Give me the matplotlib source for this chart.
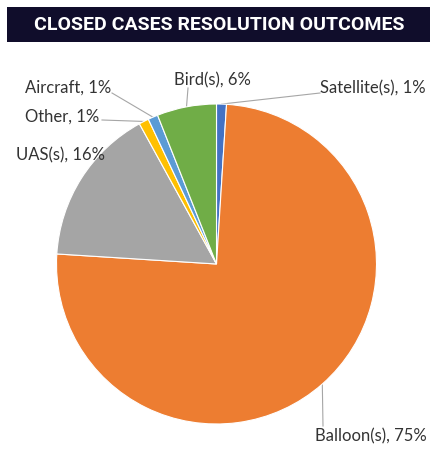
import numpy as np
import matplotlib
matplotlib.use("Agg")
import matplotlib.pyplot as plt
from matplotlib.patches import Rectangle

title = "CLOSED CASES RESOLUTION OUTCOMES"
categories = ["Satellite(s)", "Balloon(s)", "UAS(s)", "Other", "Aircraft", "Bird(s)"]
values = [1, 75, 16, 1, 1, 6]
colors = ["#4472C4", "#ED7D31", "#A5A5A5", "#FFC000", "#5B9BD5", "#70AD47"]

W, H = 443, 452
fig = plt.figure(figsize=(W / 100, H / 100), dpi=100)
ax = fig.add_axes([0, 0, 1, 1])
ax.set_xlim(0, W)
ax.set_ylim(0, H)
ax.set_aspect("equal")
ax.axis("off")

def py(y):
    return H - y

# title bar
ax.add_patch(Rectangle((7, py(43)), 423, 35, facecolor="#100D2B", edgecolor="none"))
ax.text(219, py(25.5), title, color="white", fontsize=14, fontweight="bold",
        family=["Roboto", "DejaVu Sans"], ha="center", va="center")

cx, cy, R = 216.5, py(265), 160
wedges, _ = ax.pie(values, colors=colors, startangle=90, counterclock=False,
                   center=(cx, cy), radius=R,
                   wedgeprops=dict(edgecolor="white", linewidth=0.8))
ax.set_xlim(0, W)
ax.set_ylim(0, H)

label_font = dict(fontsize=12, color="#333333", family=["Lato", "DejaVu Sans"])
# label positions (text anchor) and leader end points, in pixel coords (y down)
layout = {
    "Satellite(s)": dict(text=(320, 88), ha="left", lead=(320, 94)),
    "Balloon(s)": dict(text=(315, 436), ha="left", lead=(323, 427)),
    "UAS(s)": dict(text=(16, 155), ha="left", lead=None),
    "Other": dict(text=(25, 117), ha="left", lead=(102, 121)),
    "Aircraft": dict(text=(25, 88), ha="left", lead=(112, 94)),
    "Bird(s)": dict(text=(174, 80), ha="left", lead=(188, 89)),
}
for w, cat, v in zip(wedges, categories, values):
    L = layout[cat]
    ax.text(L["text"][0], py(L["text"][1]), f"{cat}, {v}%", ha=L["ha"], va="center", **label_font)
    if L["lead"] is not None:
        ang = np.deg2rad((w.theta1 + w.theta2) / 2)
        x0, y0 = cx + R * np.cos(ang), cy + R * np.sin(ang)
        ax.plot([x0, L["lead"][0]], [y0, py(L["lead"][1])], color="#A6A6A6", lw=0.8, zorder=0.5)

fig.savefig("out.png", dpi=100, facecolor="white")
